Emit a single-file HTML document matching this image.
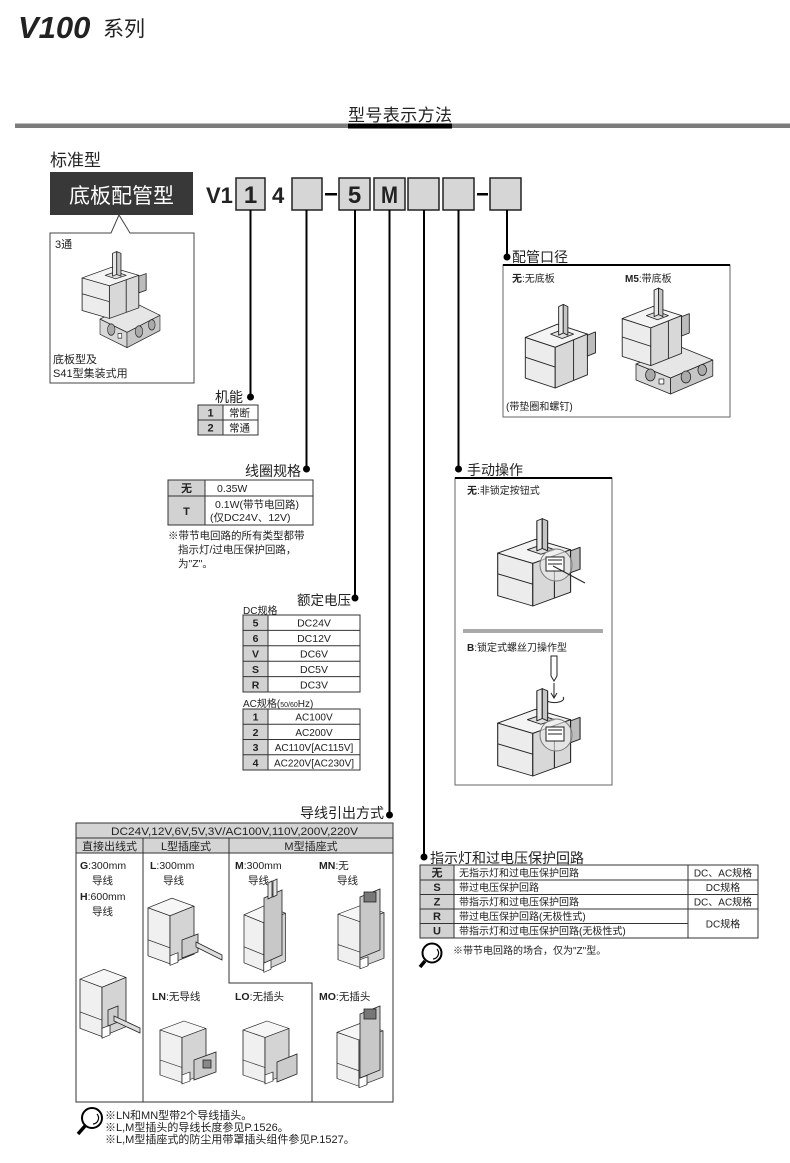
<!DOCTYPE html>
<html><head><meta charset="utf-8">
<style>
html,body{margin:0;padding:0;background:#fff;width:790px;height:1163px;overflow:hidden}
svg{display:block}
text{font-family:"Liberation Sans","Noto Sans CJK SC",sans-serif;fill:#222}
.b{font-weight:bold}
.c{text-anchor:middle}
</style></head><body>
<svg width="790" height="1163" viewBox="0 0 790 1163" xmlns="http://www.w3.org/2000/svg">
<defs>
<g id="vb" stroke="#222" stroke-width="0.8" stroke-linejoin="round">
<path d="M2,34 L30,22 L56,31 L28,43 Z" fill="#f4f4f4"/>
<path d="M2,34 L28,43 L28,80 L2,71 Z" fill="#ececec"/>
<path d="M28,43 L56,31 L56,68 L28,80 Z" fill="#d8d8d8"/>
<path d="M2,52 L28,61 M44,36 L44,73" fill="none"/>
<path d="M56,32 L63,29 L63,48 L56,51 Z" fill="#bcbcbc"/>
<path d="M24,31 L34,27 L44,31 L34,35 Z" fill="#e0e0e0"/>
<path d="M31,6 L35,4 L35,30 L31,32 Z" fill="#e8e8e8"/>
<path d="M35,4 L39,6 L39,32 L35,30 Z" fill="#c4c4c4"/>
</g>
<g id="bp" stroke="#222" stroke-width="0.8" stroke-linejoin="round">
<path d="M0,18 L44,0 L80,14 L36,32 Z" fill="#e6e6e6"/>
<path d="M0,18 L36,32 L36,48 L0,34 Z" fill="#d8d8d8"/>
<path d="M36,32 L80,14 L80,30 L36,48 Z" fill="#c6c6c6"/>
<ellipse cx="15" cy="29" rx="5" ry="6" fill="#aaa"/>
<ellipse cx="52" cy="31" rx="5" ry="6" fill="#aaa"/>
<ellipse cx="69" cy="24" rx="4.5" ry="5.5" fill="#aaa"/>
<rect x="24" y="33" width="5" height="5" fill="#fff"/>
</g>
<g id="vt" stroke="#222" stroke-width="0.8" stroke-linejoin="round">
<path d="M0,16 L24,4 L46,14 L22,26 Z" fill="#f6f6f6"/>
<path d="M0,16 L22,26 L22,86 L0,76 Z" fill="#f0f0f0"/>
<path d="M22,26 L46,14 L46,74 L22,86 Z" fill="#d4d4d4"/>
<path d="M0,56 L22,66" fill="none"/>
<path d="M22,76 L30,72 L30,84 L22,88 Z" fill="#fff"/>
</g>
</defs>

<!-- Header -->
<text x="18" y="38" class="b" font-style="italic" font-size="31">V100</text>
<text x="103" y="36" font-size="21">系列</text>

<rect x="15" y="123.5" width="775" height="4.5" fill="#7c7c7c"/>
<rect x="348" y="123.5" width="104" height="5" fill="#000"/>
<text x="348" y="121" font-size="17" textLength="104">型号表示方法</text>

<text x="50" y="166" font-size="17">标准型</text>
<rect x="50" y="172" width="143" height="43" fill="#383838"/>
<text x="121.5" y="203" font-size="21" class="c" style="fill:#fff">底板配管型</text>

<!-- callout -->
<path d="M50,233 L111,233 L119,215 L130,233 L194,233 L194,383 L50,383 Z" fill="#fff" stroke="#444" stroke-width="1"/>
<text x="55" y="248" font-size="11">3通</text>
<use href="#bp" transform="translate(100,302) scale(0.75,0.95)"/>
<use href="#vb" transform="translate(80,248) scale(1.05,0.88)"/>
<text x="53" y="363" font-size="11">底板型及</text>
<text x="53" y="377" font-size="11">S41型集装式用</text>

<!-- code row -->
<text x="206" y="203" class="b" font-size="22" font-weight="bold">V1</text>
<rect x="236" y="178" width="29" height="32" fill="#d6d6d6" stroke="#222" stroke-width="1.5"/>
<text x="250.5" y="203" class="b c" font-size="24">1</text>
<text x="272" y="203" class="b" font-size="22" font-weight="bold">4</text>
<rect x="292" y="178" width="30" height="32" fill="#d6d6d6" stroke="#222" stroke-width="1.5"/>
<rect x="325" y="193" width="12" height="2.5" fill="#000"/>
<rect x="339" y="178" width="31" height="32" fill="#d6d6d6" stroke="#222" stroke-width="1.5"/>
<text x="354.5" y="203" class="b c" font-size="24">5</text>
<rect x="374" y="178" width="31" height="32" fill="#d6d6d6" stroke="#222" stroke-width="1.5"/>
<text x="381" y="203" class="b" font-size="24" textLength="17" lengthAdjust="spacingAndGlyphs">M</text>
<rect x="408" y="178" width="31" height="32" fill="#d6d6d6" stroke="#222" stroke-width="1.5"/>
<rect x="443" y="178" width="31" height="32" fill="#d6d6d6" stroke="#222" stroke-width="1.5"/>
<rect x="477" y="193" width="11" height="2.5" fill="#000"/>
<rect x="490" y="178" width="31" height="32" fill="#d6d6d6" stroke="#222" stroke-width="1.5"/>

<!-- leader lines -->
<g stroke="#000" stroke-width="2">
<line x1="250.5" y1="210" x2="250.5" y2="397"/>
<line x1="306.5" y1="210" x2="306.5" y2="469"/>
<line x1="355" y1="210" x2="355" y2="598"/>
<line x1="389.5" y1="210" x2="389.5" y2="815"/>
<line x1="424" y1="210" x2="424" y2="857"/>
<line x1="458.5" y1="210" x2="458.5" y2="469"/>
<line x1="507" y1="210" x2="507" y2="257"/>
</g>
<g fill="#000">
<circle cx="250.5" cy="397" r="3.5"/>
<circle cx="306.5" cy="469" r="3.5"/>
<circle cx="355" cy="598" r="3.5"/>
<circle cx="389.5" cy="815" r="3.5"/>
<circle cx="424" cy="857" r="3.5"/>
<circle cx="458.5" cy="469" r="3.5"/>
<circle cx="507" cy="257" r="3.5"/>
</g>

<!-- 机能 -->
<text x="215" y="402" font-size="14">机能</text>
<rect x="198" y="405" width="60" height="30" fill="#fff" stroke="#333"/>
<rect x="198" y="405" width="25" height="30" fill="#d2d2d2" stroke="#333"/>
<line x1="198" y1="420" x2="258" y2="420" stroke="#333"/>
<text x="210.5" y="416.5" class="b c" font-size="11">1</text>
<text x="229" y="416.5" font-size="10.5">常断</text>
<text x="210.5" y="431.5" class="b c" font-size="11">2</text>
<text x="229" y="431.5" font-size="10.5">常通</text>

<!-- 线圈规格 -->
<text x="245" y="476" font-size="14">线圈规格</text>
<rect x="168" y="480" width="145" height="45" fill="#fff" stroke="#333"/>
<rect x="168" y="480" width="37" height="45" fill="#d2d2d2" stroke="#333"/>
<line x1="168" y1="496" x2="313" y2="496" stroke="#333"/>
<text x="186.5" y="492" class="b c" font-size="11">无</text>
<text x="217" y="492" font-size="10.5">0.35W</text>
<text x="186.5" y="515" class="b c" font-size="11">T</text>
<text x="215" y="508" font-size="10.5">0.1W(带节电回路)</text>
<text x="210" y="521" font-size="10.5">(仅DC24V、12V)</text>
<text x="168" y="539" font-size="10.5">※带节电回路的所有类型都带</text>
<text x="178" y="553" font-size="10.5">指示灯/过电压保护回路，</text>
<text x="178" y="567" font-size="10.5">为"Z"。</text>

<!-- 额定电压 -->
<text x="297" y="605" font-size="13.5">额定电压</text>
<text x="243" y="614" font-size="10">DC规格</text>
<rect x="243" y="615" width="117" height="77" fill="#fff" stroke="#333"/>
<rect x="243" y="615" width="25" height="77" fill="#d2d2d2" stroke="#333"/>
<g stroke="#333"><line x1="243" y1="630.4" x2="360" y2="630.4"/><line x1="243" y1="645.8" x2="360" y2="645.8"/><line x1="243" y1="661.2" x2="360" y2="661.2"/><line x1="243" y1="676.6" x2="360" y2="676.6"/></g>
<g font-size="10.5">
<text x="255.5" y="626.7" class="b c">5</text><text x="314" y="626.7" class="c">DC24V</text>
<text x="255.5" y="642.1" class="b c">6</text><text x="314" y="642.1" class="c">DC12V</text>
<text x="255.5" y="657.5" class="b c">V</text><text x="314" y="657.5" class="c">DC6V</text>
<text x="255.5" y="672.9" class="b c">S</text><text x="314" y="672.9" class="c">DC5V</text>
<text x="255.5" y="688.3" class="b c">R</text><text x="314" y="688.3" class="c">DC3V</text>
</g>
<text x="243" y="707" font-size="10">AC规格(<tspan font-size="7">50/60</tspan>Hz)</text>
<rect x="243" y="709" width="117" height="61" fill="#fff" stroke="#333"/>
<rect x="243" y="709" width="25" height="61" fill="#d2d2d2" stroke="#333"/>
<g stroke="#333"><line x1="243" y1="724.25" x2="360" y2="724.25"/><line x1="243" y1="739.5" x2="360" y2="739.5"/><line x1="243" y1="754.75" x2="360" y2="754.75"/></g>
<g font-size="10">
<text x="255.5" y="720.6" class="b c" font-size="10.5">1</text><text x="314" y="720.6" class="c">AC100V</text>
<text x="255.5" y="735.9" class="b c" font-size="10.5">2</text><text x="314" y="735.9" class="c">AC200V</text>
<text x="255.5" y="751.1" class="b c" font-size="10.5">3</text><text x="314" y="751.1" class="c">AC110V[AC115V]</text>
<text x="255.5" y="766.4" class="b c" font-size="10.5">4</text><text x="314" y="766.4" class="c">AC220V[AC230V]</text>
</g>
<text x="300" y="818" font-size="14">导线引出方式</text>

<!-- 配管口径 -->
<text x="512" y="262" font-size="14">配管口径</text>
<rect x="503" y="265" width="227" height="152" fill="#fff" stroke="#666"/>
<line x1="503" y1="265" x2="730" y2="265" stroke="#000" stroke-width="2"/>
<text x="512" y="282" font-size="10"><tspan class="b">无</tspan>:无底板</text>
<text x="625" y="282" font-size="10"><tspan class="b">M5</tspan>:带底板</text>
<use href="#vb" transform="translate(523,300) scale(1.15,1.1)"/>
<use href="#bp" transform="translate(636,346) scale(0.96,1.0)"/>
<use href="#vb" transform="translate(620,284) scale(1.1,1.02)"/>
<text x="506" y="410" font-size="10">(带垫圈和螺钉)</text>

<!-- 手动操作 -->
<text x="467" y="475" font-size="14">手动操作</text>
<rect x="455" y="478" width="157" height="307" fill="#fff" stroke="#666"/>
<line x1="455" y1="478" x2="612" y2="478" stroke="#000" stroke-width="2"/>
<text x="467" y="494" font-size="10"><tspan class="b">无</tspan>:非锁定按钮式</text>
<use href="#vb" transform="translate(495,514) scale(1.35,1.15)"/>
<circle cx="556" cy="565" r="16" fill="#ececec" fill-opacity="0.6" stroke="#777"/>
<rect x="546" y="557" width="18" height="14" fill="#fff" stroke="#222"/>
<path d="M548,560 L562,560 M548,564 L562,564" stroke="#222"/>
<line x1="553" y1="566" x2="585" y2="583" stroke="#222"/>
<rect x="463" y="629" width="140" height="4" fill="#aaa"/>
<text x="467" y="651" font-size="10"><tspan class="b">B</tspan>:锁定式螺丝刀操作型</text>
<path d="M551,656 L557,656 L557,676 L554,681 L551,676 Z" fill="#fff" stroke="#222"/>
<line x1="554" y1="683" x2="554" y2="697" stroke="#222"/>
<path d="M551,693 L554,698 L557,693" fill="none" stroke="#222"/>
<path d="M546,700 A9,4 0 1 0 563,697" fill="none" stroke="#222"/>
<use href="#vb" transform="translate(495,684) scale(1.35,1.15)"/>
<circle cx="556" cy="735" r="16" fill="#ececec" fill-opacity="0.6" stroke="#777"/>
<rect x="546" y="727" width="18" height="14" fill="#fff" stroke="#222"/>
<path d="M548,730 L562,730 M548,734 L562,734" stroke="#222"/>

<!-- 导线引出方式 box -->
<rect x="76" y="823" width="317" height="279" fill="#fff" stroke="#333"/>
<rect x="76" y="823" width="317" height="30" fill="#d4d4d4" stroke="#333"/>
<line x1="76" y1="838" x2="393" y2="838" stroke="#333"/>
<text x="234.5" y="835" class="c" font-size="11" textLength="247" lengthAdjust="spacingAndGlyphs">DC24V,12V,6V,5V,3V/AC100V,110V,200V,220V</text>
<g stroke="#333" fill="none">
<line x1="143" y1="838" x2="143" y2="1102"/>
<path d="M229,838 L229,983 L312,983 L312,1102"/>
</g>
<text x="109.5" y="850" class="c" font-size="11">直接出线式</text>
<text x="186" y="850" class="c" font-size="11">L型插座式</text>
<text x="311" y="850" class="c" font-size="11">M型插座式</text>
<g font-size="10.5">
<text x="80" y="869"><tspan class="b">G</tspan>:300mm</text>
<text x="92" y="884">导线</text>
<text x="80" y="900"><tspan class="b">H</tspan>:600mm</text>
<text x="92" y="915">导线</text>
<text x="150" y="869"><tspan class="b">L</tspan>:300mm</text>
<text x="163" y="884">导线</text>
<text x="235" y="869"><tspan class="b">M</tspan>:300mm</text>
<text x="248" y="884">导线</text>
<text x="319" y="869"><tspan class="b">MN</tspan>:无</text>
<text x="337" y="884">导线</text>
<text x="152" y="1000"><tspan class="b">LN</tspan>:无导线</text>
<text x="235" y="1000"><tspan class="b">LO</tspan>:无插头</text>
<text x="319" y="1000"><tspan class="b">MO</tspan>:无插头</text>
</g>
<!-- G -->
<use href="#vt" transform="translate(80,966) scale(1.0,0.82)"/>
<path d="M108,1010 L118,1006 L118,1022 L108,1026 Z" fill="#ccc" stroke="#222" stroke-width="0.8"/>
<path d="M114,1016 L140,1028 L140,1033 L114,1021 Z" fill="#ddd" stroke="#222" stroke-width="0.8"/>
<!-- L -->
<use href="#vt" transform="translate(148,895) scale(1.0,0.8)"/>
<path d="M182,940 L198,934 L198,952 L182,958 Z" fill="#ccc" stroke="#222" stroke-width="0.8"/>
<path d="M196,942 L222,955 L222,960 L196,947 Z" fill="#ddd" stroke="#222" stroke-width="0.8"/>
<!-- M -->
<use href="#vt" transform="translate(244,902) scale(0.9,0.8)"/>
<path d="M264,898 L282,890 L282,955 L264,963 Z" fill="#c8c8c8" stroke="#222" stroke-width="0.8"/>
<path d="M268,883 L272,881 L272,897 L268,899 Z M273,881 L277,879 L277,895 L273,897 Z" fill="#e6e6e6" stroke="#222" stroke-width="0.8"/>
<!-- MN -->
<use href="#vt" transform="translate(338,902) scale(1.0,0.76)"/>
<path d="M360,897 L380,889 L380,950 L360,958 Z" fill="#c8c8c8" stroke="#222" stroke-width="0.8"/>
<rect x="364" y="892" width="12" height="10" fill="#777" stroke="#222" stroke-width="0.8"/>
<!-- LN -->
<use href="#vt" transform="translate(160,1018) scale(1.0,0.75)"/>
<path d="M194,1060 L216,1052 L216,1072 L194,1080 Z" fill="#ccc" stroke="#222" stroke-width="0.8"/>
<rect x="203" y="1060" width="8" height="8" fill="#888" stroke="#222" stroke-width="0.8"/>
<!-- LO -->
<use href="#vt" transform="translate(243,1018) scale(1.0,0.75)"/>
<path d="M277,1062 L297,1054 L297,1074 L277,1082 Z" fill="#ccc" stroke="#222" stroke-width="0.8"/>
<!-- MO -->
<use href="#vt" transform="translate(337,1020) scale(1.0,0.77)"/>
<path d="M360,1014 L380,1006 L380,1070 L360,1078 Z" fill="#c8c8c8" stroke="#222" stroke-width="0.8"/>
<rect x="364" y="1009" width="12" height="10" fill="#777" stroke="#222" stroke-width="0.8"/>

<!-- bottom notes -->
<circle cx="92" cy="1118" r="10" fill="#fff" stroke="#000" stroke-width="2"/>
<path d="M97,1114 A6,6 0 0 1 93,1124" fill="none" stroke="#000" stroke-width="1.2"/>
<line x1="85" y1="1126" x2="78" y2="1134" stroke="#000" stroke-width="3.5"/>
<g font-size="11">
<text x="105" y="1119">※LN和MN型带2个导线插头。</text>
<text x="105" y="1131">※L,M型插头的导线长度参见P.1526。</text>
<text x="105" y="1143">※L,M型插座式的防尘用带罩插头组件参见P.1527。</text>
</g>

<!-- indicator -->
<text x="430" y="863" font-size="14">指示灯和过电压保护回路</text>
<rect x="420" y="865" width="338" height="73" fill="#fff" stroke="#333"/>
<rect x="420" y="865" width="34" height="73" fill="#d2d2d2" stroke="#333"/>
<g stroke="#333">
<line x1="420" y1="880" x2="758" y2="880"/>
<line x1="420" y1="894.5" x2="758" y2="894.5"/>
<line x1="420" y1="909" x2="758" y2="909"/>
<line x1="420" y1="923.5" x2="688" y2="923.5"/>
<line x1="688" y1="865" x2="688" y2="938"/>
</g>
<g font-size="10">
<text x="437" y="876.5" class="b c" font-size="11">无</text><text x="459" y="876.5">无指示灯和过电压保护回路</text><text x="723" y="876.5" class="c">DC、AC规格</text>
<text x="437" y="891" class="b c" font-size="11">S</text><text x="459" y="891">带过电压保护回路</text><text x="723" y="891" class="c">DC规格</text>
<text x="437" y="905.5" class="b c" font-size="11">Z</text><text x="459" y="905.5">带指示灯和过电压保护回路</text><text x="723" y="905.5" class="c">DC、AC规格</text>
<text x="437" y="920" class="b c" font-size="11">R</text><text x="459" y="920">带过电压保护回路(无极性式)</text>
<text x="437" y="934.5" class="b c" font-size="11">U</text><text x="459" y="934.5">带指示灯和过电压保护回路(无极性式)</text>
<text x="723" y="927.5" class="c">DC规格</text>
</g>
<circle cx="432" cy="953" r="9.5" fill="#fff" stroke="#000" stroke-width="2"/>
<path d="M437,949 A6,6 0 0 1 433,959" fill="none" stroke="#000" stroke-width="1.2"/>
<line x1="425" y1="961" x2="420" y2="967" stroke="#000" stroke-width="3.5"/>
<text x="453" y="954" font-size="10">※带节电回路的场合，仅为"Z"型。</text>
</svg>
</body></html>
